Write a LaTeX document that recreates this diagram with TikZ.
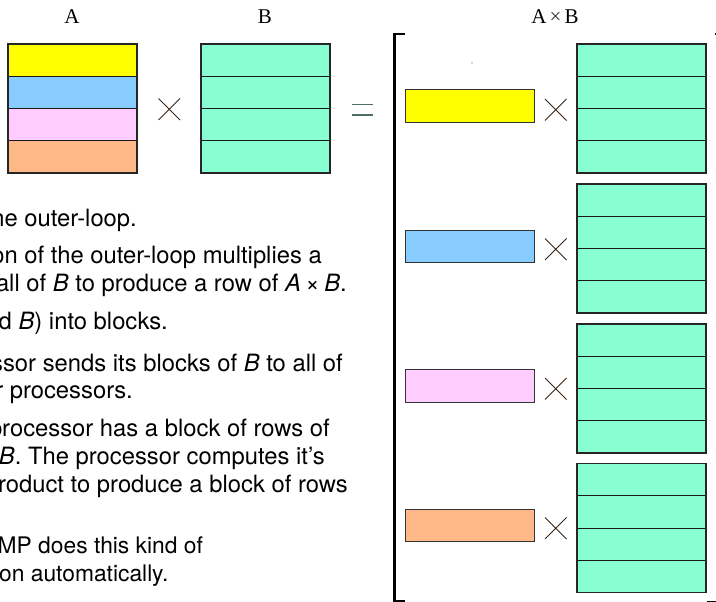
\documentclass[tikz,border=0pt]{standalone}
\usepackage{fontspec}
\setmainfont{TeX Gyre Heros}
\newfontfamily\seriffont{Liberation Serif}
\definecolor{cyel}{HTML}{FFFF00}
\definecolor{cblu}{HTML}{88CCFF}
\definecolor{cpnk}{HTML}{FFCCFF}
\definecolor{corg}{HTML}{FFB888}
\definecolor{caqua}{HTML}{88FFD2}
\definecolor{ccross}{HTML}{3A2414}
\definecolor{ceq}{HTML}{4E6E60}
\newcommand\myblock[2]{%
  \fill[caqua] (#1,#2) rectangle ++(129,129);
  \foreach \k in {1,2,3} \draw[innerline] (#1,#2+32.25*\k) -- ++(129,0);
  \draw[outerline] (#1,#2) rectangle ++(129,129);}
\newcommand\mycross[2]{%
  \draw[crossline] (#1,#2) -- ++(21.5,21.5) (#1,#2+21.5) -- ++(21.5,-21.5);}
\newcommand\mybar[3]{%
  \draw[barline,fill=#3] (#1,#2) rectangle ++(129,32.5);}
\begin{document}
\begin{tikzpicture}[x=1pt,y=-1pt,
  innerline/.style={draw=black!90,line width=0.9pt},
  outerline/.style={draw=black!85,line width=1.5pt},
  barline/.style={draw=black!80,line width=1pt},
  crossline/.style={draw=ccross,line width=0.9pt},
  txt/.style={inner sep=0pt,anchor=base east,font=\fontsize{23.8}{29}\selectfont},
  txtl/.style={inner sep=0pt,anchor=base west,font=\fontsize{22.8}{28}\selectfont},
  lbl/.style={inner sep=0pt,anchor=base,font=\seriffont\fontsize{21}{24}\selectfont}]
\useasboundingbox (0,0) rectangle (716,602);
\clip (0,0) rectangle (716,602);
% labels
\node[lbl] (la) at (72,24) {A};
\node[lbl] (lb) at (265,24) {B};
\node[lbl] (lab) at (555,24) {A\hspace{3pt}{\color{black!80}×}\hspace{3pt}B};
% matrix A
\fill[cyel] (8,44) rectangle (137,76.25);
\fill[cblu] (8,76.25) rectangle (137,108.5);
\fill[cpnk] (8,108.5) rectangle (137,140.75);
\fill[corg] (8,140.75) rectangle (137,173);
\foreach \k in {1,2,3} \draw[innerline] (8,44+32.25*\k) -- ++(129,0);
\draw[outerline] (8,44) rectangle (137,173);
\mycross{158.5}{98.5}
% matrix B
\myblock{201}{44}
% equals
\draw[ceq,line width=1.4pt] (352,104.5) -- (373,104.5) (352,115) -- (373,115);
% brackets
\draw[line width=2.2pt] (405,34) -- (394.5,34) -- (394.5,601.5) -- (405,601.5);
\draw[line width=2pt] (714.5,34) -- (716.5,34) -- (716.5,601.5) -- (707,601.5);
\fill[black!70] (472,63) circle (0.6);
% rows
\mybar{405}{90}{cyel}
\mycross{545}{99}
\myblock{577}{44}
\mybar{405}{230}{cblu}
\mycross{545}{238.5}
\myblock{577}{184}
\mybar{405}{369.5}{cpnk}
\mycross{545}{378}
\myblock{577}{324}
\mybar{405}{509}{corg}
\mycross{545}{517.5}
\myblock{577}{463.5}
% text
\node[txt] (t1) at (137,226) {he outer-loop.};
\node[txt] (t2) at (322,263) {on of the outer-loop multiplies a};
\node[txt] (t3) at (347,291.5) {all of \textit{B} to produce a row of \textit{A}\hspace{0.2em}×\hspace{0.2em}\textit{B}.};
\node[txt] (t4) at (168,329) {d \textit{B}) into blocks.};
\node[txt] (t5) at (343,371) {ssor sends its blocks of \textit{B} to all of};
\node[txt] (t6) at (133,398) {r processors.};
\node[txt] (t7) at (330,436) {processor has a block of rows of};
\node[txt] (t8) at (325,464) {\textit{B}. The processor computes it’s};
\node[txt] (t9) at (348,492.5) {roduct to produce a block of rows};
\node[txtl] (t10) at (-2.5,553) {MP does this kind of};
\node[txtl] (t11) at (-1,581) {on automatically.};
\end{tikzpicture}
\end{document}
